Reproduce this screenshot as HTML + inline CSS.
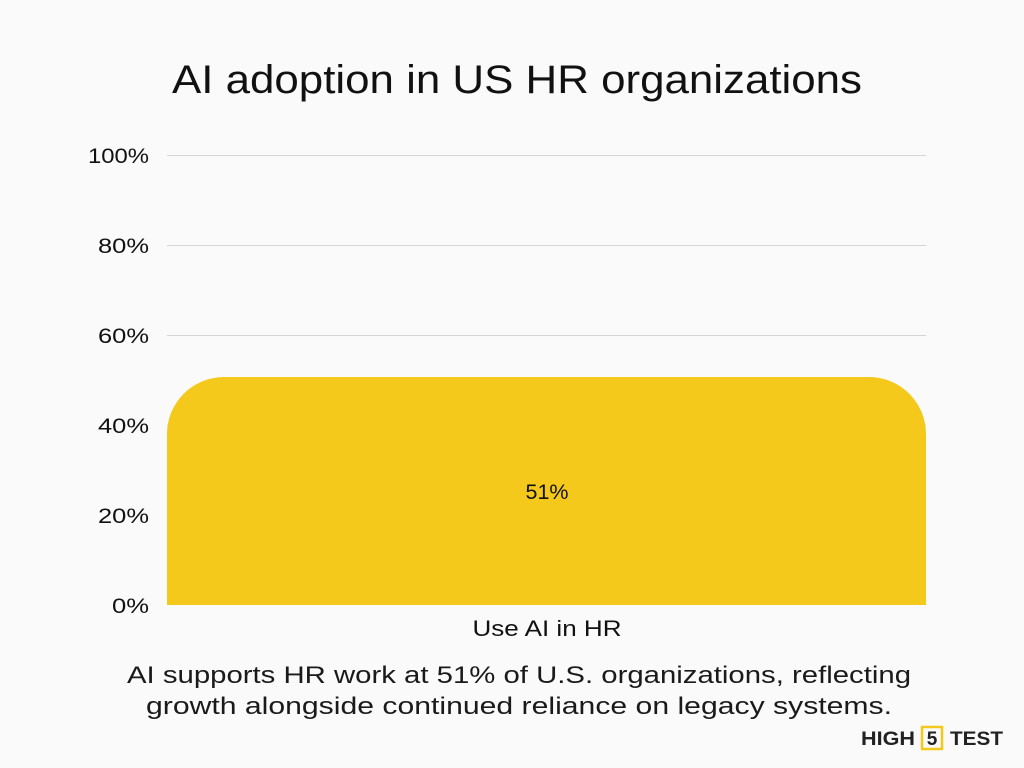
<!DOCTYPE html>
<html><head><style>
html,body{margin:0;padding:0;background:#fafafa;}
svg{display:block;font-family:"Liberation Sans",sans-serif;}
</style></head><body>
<svg width="1024" height="768" viewBox="0 0 1024 768">
<rect width="1024" height="768" fill="#fafafa"/>
<text x="517" y="93" font-size="40" text-anchor="middle" fill="#111" textLength="690" lengthAdjust="spacingAndGlyphs">AI adoption in US HR organizations</text>
<g stroke="#d6d6d6" stroke-width="1">
<line x1="167" y1="155.5" x2="926" y2="155.5"/>
<line x1="167" y1="245.5" x2="926" y2="245.5"/>
<line x1="167" y1="335.5" x2="926" y2="335.5"/>
<line x1="167" y1="425.5" x2="926" y2="425.5"/>
<line x1="167" y1="515.5" x2="926" y2="515.5"/>
</g>
<g font-size="21" fill="#111" text-anchor="end">
<text x="149" y="163" textLength="61" lengthAdjust="spacingAndGlyphs">100%</text>
<text x="149" y="253" textLength="51" lengthAdjust="spacingAndGlyphs">80%</text>
<text x="149" y="343" textLength="51" lengthAdjust="spacingAndGlyphs">60%</text>
<text x="149" y="433" textLength="51" lengthAdjust="spacingAndGlyphs">40%</text>
<text x="149" y="523" textLength="51" lengthAdjust="spacingAndGlyphs">20%</text>
<text x="149" y="613" textLength="37" lengthAdjust="spacingAndGlyphs">0%</text>
</g>
<path d="M167 605 V434 A57 57 0 0 1 224 377 H869 A57 57 0 0 1 926 434 V605 Z" fill="#f5c91c"/>
<text x="547" y="499" font-size="21" text-anchor="middle" fill="#111" textLength="43" lengthAdjust="spacingAndGlyphs">51%</text>
<text x="547" y="636" font-size="22" text-anchor="middle" fill="#111" textLength="149" lengthAdjust="spacingAndGlyphs">Use AI in HR</text>
<text x="519" y="683" font-size="24" text-anchor="middle" fill="#1a1a1a" textLength="784" lengthAdjust="spacingAndGlyphs">AI supports HR work at 51% of U.S. organizations, reflecting</text>
<text x="519" y="714" font-size="24" text-anchor="middle" fill="#1a1a1a" textLength="746" lengthAdjust="spacingAndGlyphs">growth alongside continued reliance on legacy systems.</text>
<g font-size="19" font-weight="bold" fill="#222">
<text x="861" y="745" textLength="54" lengthAdjust="spacingAndGlyphs">HIGH</text>
<rect x="922" y="727" width="20" height="22" fill="none" stroke="#f5c91c" stroke-width="2.5"/>
<text x="932" y="745" text-anchor="middle">5</text>
<text x="950" y="745" textLength="53" lengthAdjust="spacingAndGlyphs">TEST</text>
</g>
</svg>
</body></html>
